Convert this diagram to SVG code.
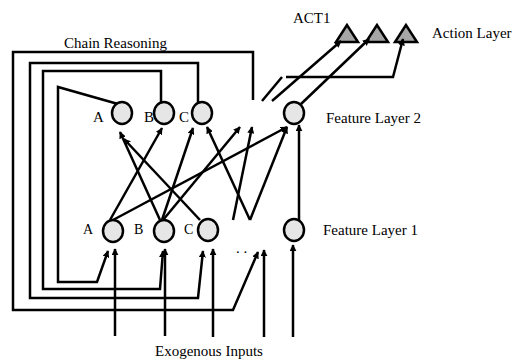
<svg xmlns="http://www.w3.org/2000/svg" width="517" height="361" viewBox="0 0 517 361">
<style>
.t{font-family:"Liberation Serif","Times New Roman",serif;font-size:15px;fill:#000}
.n{fill:#e6e6e6;stroke:#000;stroke-width:2.5}
.tri{fill:#a6a6a6;stroke:#000;stroke-width:2.5;stroke-linejoin:miter}
.c{fill:none;stroke:#000;stroke-width:2.5}
.a{marker-end:url(#ah)}
</style>
<defs>
<marker id="ah" viewBox="0 0 10 10" refX="9" refY="5" markerWidth="7" markerHeight="7" markerUnits="userSpaceOnUse" orient="auto">
<path d="M0,0 L10,5 L0,10 z" fill="#000"/>
</marker>
</defs>
<rect width="517" height="361" fill="#fff"/>

<g id="action-layer">
<polygon id="act1" class="tri" points="347,25 336,42 358,42"/>
<polygon id="act2" class="tri" points="377,25 366,42 388,42"/>
<polygon id="act3" class="tri" points="406,25 395,42 417,42"/>
</g>

<g id="connectors">
<!-- chain reasoning loops -->
<path class="c a" d="M253,100 V52 H13 V310 H233 L258,252"/>
<path class="c a" d="M198,103 V63 H30 V298 H198 L203,251"/>
<path class="c a" d="M161,103 V71 H43 V289 H160 L163,251"/>
<path class="c a" d="M118,104 L58,87 V282 H97 L108,251"/>
<!-- exogenous inputs -->
<path class="c a" d="M115,336 V249"/>
<path class="c a" d="M165,336 V249"/>
<path class="c a" d="M213,337 V249"/>
<path class="c a" d="M264,337 V250"/>
<path class="c a" d="M293,337 V245"/>
<!-- feature layer 1 to feature layer 2 -->
<path class="c a" d="M299,220 V125"/>
<path class="c a" d="M110,220 L162,128"/>
<path class="c a" d="M113,220 L287,127"/>
<path class="c a" d="M160,220 L120,132"/>
<path class="c a" d="M162,220 L193,128"/>
<path class="c a" d="M163,220 L240,127"/>
<path class="c a" d="M200,220 L124,139"/>
<path class="c a" d="M233,220 L252,127"/>
<path class="c a" d="M250,220 L207,127"/>
<path class="c a" d="M250,220 L287,127"/>
<!-- to action layer -->
<path class="c" d="M262,101 L282,77"/>
<path class="c a" d="M272,101 L341,41"/>
<path class="c a" d="M301,104 L369,39"/>
<path class="c a" d="M286,77 H393 L403,39"/>
</g>

<g id="feature-layer-2">
<g id="fl2-a"><ellipse class="n" cx="122" cy="113" rx="10" ry="11"/><text class="t" x="93" y="122">A</text></g>
<g id="fl2-b"><ellipse class="n" cx="164" cy="113" rx="10" ry="11"/><text class="t" x="144" y="122">B</text></g>
<g id="fl2-c"><ellipse class="n" cx="202" cy="113" rx="10" ry="11"/><text class="t" x="179" y="122">C</text></g>
<g id="fl2-r"><ellipse class="n" cx="294" cy="113" rx="10" ry="11"/></g>
</g>

<g id="feature-layer-1">
<g id="fl1-a"><ellipse class="n" cx="113" cy="231" rx="10" ry="11"/><text class="t" x="83" y="234" style="font-size:14px">A</text></g>
<g id="fl1-b"><ellipse class="n" cx="164" cy="231" rx="10" ry="11"/><text class="t" x="134" y="234" style="font-size:14px">B</text></g>
<g id="fl1-c"><ellipse class="n" cx="208" cy="230" rx="10" ry="11"/><text class="t" x="184" y="234" style="font-size:14px">C</text></g>
<g id="fl1-dots"><text class="t" x="236" y="253">. .</text></g>
<g id="fl1-r"><ellipse class="n" cx="294" cy="230" rx="10" ry="11"/></g>
</g>

<g id="labels">
<text class="t" x="64" y="48">Chain Reasoning</text>
<text class="t" x="293" y="23">ACT1</text>
<text class="t" x="432" y="38">Action Layer</text>
<text class="t" x="326" y="123">Feature Layer 2</text>
<text class="t" x="323" y="235">Feature Layer 1</text>
<text class="t" x="155" y="356">Exogenous Inputs</text>
</g>
</svg>
